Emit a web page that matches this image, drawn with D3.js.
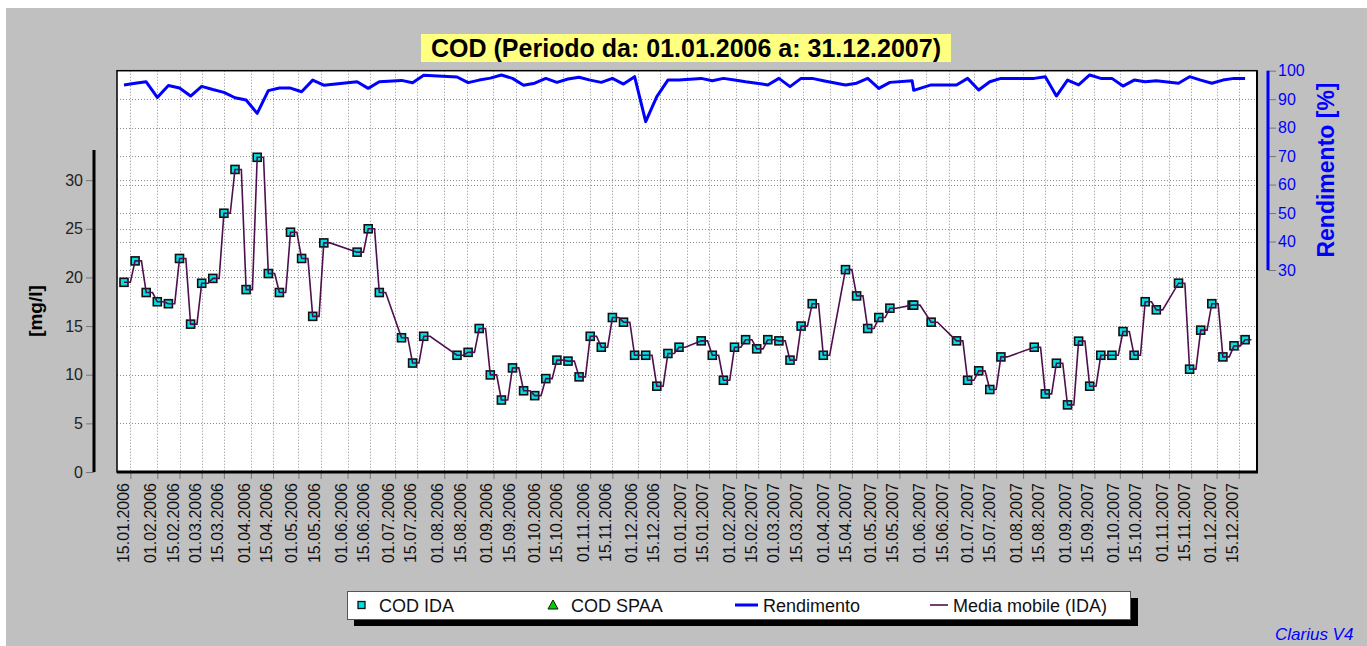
<!DOCTYPE html>
<html>
<head>
<meta charset="utf-8">
<script src="https://cdn.jsdelivr.net/npm/d3@7"></script>
<style>
  body { margin: 0; background: #fff; }
  text { font-family: "Liberation Sans", Arial, sans-serif; }
</style>
</head>
<body>
<svg id="chart" width="1367" height="646"></svg>
<script>
// sample dates (weekly analyses)
const sampleDates = [
  "11.01.2006","18.01.2006","25.01.2006","01.02.2006","08.02.2006","15.02.2006","22.02.2006","01.03.2006",
  "08.03.2006","15.03.2006","22.03.2006","29.03.2006","05.04.2006","12.04.2006","19.04.2006","26.04.2006",
  "03.05.2006","10.05.2006","17.05.2006","07.06.2006","14.06.2006","21.06.2006","05.07.2006","12.07.2006",
  "19.07.2006","09.08.2006","16.08.2006","23.08.2006","30.08.2006","06.09.2006","13.09.2006","20.09.2006",
  "27.09.2006","04.10.2006","11.10.2006","18.10.2006","25.10.2006","01.11.2006","08.11.2006","15.11.2006",
  "22.11.2006","29.11.2006","06.12.2006","13.12.2006","20.12.2006","27.12.2006","10.01.2007","17.01.2007",
  "24.01.2007","31.01.2007","07.02.2007","14.02.2007","21.02.2007","28.02.2007","07.03.2007","14.03.2007",
  "21.03.2007","28.03.2007","11.04.2007","18.04.2007","25.04.2007","02.05.2007","09.05.2007","23.05.2007",
  "24.05.2007","04.06.2007","20.06.2007","27.06.2007","04.07.2007","11.07.2007","18.07.2007","08.08.2007",
  "15.08.2007","22.08.2007","29.08.2007","05.09.2007","12.09.2007","19.09.2007","26.09.2007","03.10.2007",
  "10.10.2007","17.10.2007","24.10.2007","07.11.2007","14.11.2007","21.11.2007","28.11.2007","05.12.2007",
  "12.12.2007","19.12.2007"
];

// COD IDA [mg/l]
const codIda = [
  19.5, 21.7, 18.45, 17.5, 17.3, 21.95, 15.2, 19.4,
  19.9, 26.6, 31.1, 18.75, 32.35, 20.4, 18.45, 24.65,
  21.95, 16.0, 23.55, 22.6, 25.0, 18.45, 13.8, 11.2,
  13.95, 12.0, 12.3, 14.75, 9.98, 7.4, 10.7, 8.35,
  7.85, 9.6, 11.5, 11.4, 9.78, 13.95, 12.83, 15.88,
  15.4, 12.0, 12.0, 8.82, 12.18, 12.83, 13.48, 12.0,
  9.43, 12.83, 13.6, 12.66, 13.6, 13.48, 11.5, 15.0,
  17.3, 12.0, 20.8, 18.1, 14.75, 15.88, 16.84, 17.15,
  17.15, 15.4, 13.48, 9.43, 10.4, 8.48, 11.83, 12.83,
  8.03, 11.18, 6.9, 13.45, 8.82, 12.0, 12.0, 14.44,
  12.0, 17.5, 16.67, 19.41, 10.57, 14.58, 17.3, 11.83,
  12.97, 13.6
];

// Rendimento [%]
const rendimento = [
  95.0, 95.6, 96.1, 90.6, 94.8, 93.9, 91.1, 94.5,
  93.4, 92.4, 90.5, 89.7, 85.0, 93.0, 93.9, 93.9,
  92.6, 96.7, 94.9, 96.1, 93.8, 96.1, 96.6, 95.8,
  98.4, 97.8, 95.8, 96.7, 97.4, 98.5, 97.3, 94.9,
  95.6, 97.3, 95.9, 97.1, 97.7, 96.7, 95.9, 97.3,
  95.3, 97.9, 82.1, 90.9, 96.7, 96.7, 97.3, 96.5,
  97.3, 96.7, 96.1, 95.6, 95.0, 97.3, 94.4, 97.3,
  97.3, 96.5, 95.0, 95.6, 97.3, 93.8, 95.9, 96.5,
  93.1, 95.0, 95.0, 97.3, 93.2, 96.1, 97.3, 97.3,
  97.9, 91.1, 96.7, 95.0, 98.5, 97.3, 97.3, 94.6,
  96.7, 96.1, 96.5, 95.6, 97.9, 96.7, 95.6, 96.7,
  97.3, 97.3
];

const leftTicks = [0, 5, 10, 15, 20, 25, 30];
const rightTicks = [30, 40, 50, 60, 70, 80, 90, 100];
const titleText = "COD (Periodo da: 01.01.2006 a: 31.12.2007)";
const legendItems = ["COD IDA", "COD SPAA", "Rendimento", "Media mobile (IDA)"];
const mediaLagDays = 4;

const parse = d3.timeParse("%d.%m.%Y");
const fmt = d3.timeFormat("%d.%m.%Y");
const dates = sampleDates.map(parse);

const plot = { left: 117, right: 1257, top: 70.7, bottom: 472 };
const svg = d3.select("#chart");

// background panel
svg.append("rect").attr("x", 6).attr("y", 8).attr("width", 1361).attr("height", 638).attr("fill", "#c0c0c0");

const x = d3.scaleTime()
  .domain([new Date(2006, 0, 6, 14), new Date(2007, 11, 26, 12)])
  .range([plot.left, plot.right]);
const yL = d3.scaleLinear().domain([0, 33.1]).range([plot.bottom, 150]);
const yR = d3.scaleLinear().domain([30, 100]).range([270, plot.top]);

// date ticks: 1st and 15th of each month
const tickDates = [];
d3.timeMonth.range(new Date(2006, 0, 1), new Date(2008, 0, 1)).forEach(m => {
  tickDates.push(m, d3.timeDay.offset(m, 14));
});
const labelDates = tickDates.filter(d => d >= new Date(2006, 0, 15) && d <= new Date(2007, 11, 15));

svg.append("rect")
  .attr("x", plot.left).attr("y", plot.top)
  .attr("width", plot.right - plot.left).attr("height", plot.bottom - plot.top)
  .attr("fill", "#fff");

// grid
const grid = svg.append("g").attr("stroke", "#8a8a8a").attr("stroke-dasharray", "1,2").attr("stroke-width", 1);
grid.selectAll(".vg").data(labelDates).enter().append("line")
  .attr("x1", d => Math.round(x(d)) + 0.5).attr("x2", d => Math.round(x(d)) + 0.5)
  .attr("y1", plot.top).attr("y2", plot.bottom);
grid.selectAll(".hl").data(leftTicks.filter(v => v > 0)).enter().append("line")
  .attr("x1", plot.left).attr("x2", plot.right)
  .attr("y1", d => Math.round(yL(d)) + 0.5).attr("y2", d => Math.round(yL(d)) + 0.5);
grid.selectAll(".hr").data(rightTicks.filter(v => v < 100)).enter().append("line")
  .attr("x1", plot.left).attr("x2", plot.right)
  .attr("y1", d => Math.round(yR(d)) + 0.5).attr("y2", d => Math.round(yR(d)) + 0.5);

// plot frame
svg.append("rect")
  .attr("x", plot.left).attr("y", plot.top)
  .attr("width", plot.right - plot.left).attr("height", plot.bottom - plot.top)
  .attr("fill", "none").attr("stroke", "#000").attr("stroke-width", 1.5);
svg.append("line").attr("x1", plot.right).attr("x2", plot.right)
  .attr("y1", plot.top).attr("y2", plot.bottom).attr("stroke", "#000").attr("stroke-width", 2);

// x axis
const xAxis = svg.append("g").attr("transform", `translate(0,${plot.bottom})`);
xAxis.call(d3.axisBottom(x).tickValues(d3.timeDay.every(4).range(x.domain()[0], x.domain()[1])).tickSize(4).tickFormat(""));
xAxis.call(d3.axisBottom(x).tickValues(labelDates).tickSize(7).tickFormat(fmt));
xAxis.selectAll(".domain").remove();
xAxis.selectAll("line").attr("stroke", "#777");
xAxis.selectAll("text")
  .attr("transform", "rotate(-90)")
  .attr("text-anchor", "end")
  .attr("x", -11).attr("y", -1.5).attr("dy", 0)
  .attr("font-size", 16).attr("fill", "#111");
svg.append("line").attr("x1", plot.left).attr("x2", plot.right + 1)
  .attr("y1", plot.bottom).attr("y2", plot.bottom).attr("stroke", "#000").attr("stroke-width", 3);

// left axis
const axL = svg.append("g").attr("transform", "translate(94,0)");
axL.call(d3.axisLeft(yL).tickValues(d3.range(0, 34, 1)).tickSize(4).tickFormat(""));
axL.call(d3.axisLeft(yL).tickValues(leftTicks).tickSize(8).tickPadding(3));
axL.selectAll(".domain").remove();
axL.selectAll("line").attr("stroke", "#777");
axL.selectAll("text").attr("font-size", 16).attr("fill", "#222");
axL.append("line").attr("y1", 150).attr("y2", plot.bottom).attr("stroke", "#000").attr("stroke-width", 3);

// right axis
const axR = svg.append("g").attr("transform", "translate(1268,0)");
axR.call(d3.axisRight(yR).tickValues(d3.range(30, 101, 2)).tickSize(4).tickFormat(""));
axR.call(d3.axisRight(yR).tickValues(rightTicks).tickSize(8).tickPadding(2));
axR.selectAll(".domain").remove();
axR.selectAll("line").attr("stroke", "#777");
axR.selectAll("text").attr("font-size", 16).attr("fill", "#0000ff");
axR.append("line").attr("y1", plot.top).attr("y2", 270).attr("stroke", "#0000ff").attr("stroke-width", 3);

// axis titles
svg.append("text").attr("transform", "translate(42,311) rotate(-90)")
  .attr("text-anchor", "middle").attr("font-size", 19).attr("font-weight", "bold").text("[mg/l]");
svg.append("text").attr("transform", "translate(1334,170) rotate(-90)")
  .attr("text-anchor", "middle").attr("font-size", 23).attr("font-weight", "bold")
  .attr("fill", "#0000ff").text("Rendimento [%]");

// Rendimento line
const rows = dates.map((d, i) => ({ d, cod: codIda[i], ren: rendimento[i] }));
svg.append("path").datum(rows)
  .attr("fill", "none").attr("stroke", "#0000ff").attr("stroke-width", 3).attr("stroke-linejoin", "round")
  .attr("d", d3.line().x(r => x(r.d)).y(r => yR(r.ren)));

// COD IDA markers
svg.selectAll(".mk").data(rows).enter().append("rect")
  .attr("x", r => x(r.d) - 4).attr("y", r => yL(r.cod) - 4)
  .attr("width", 8).attr("height", 8)
  .attr("fill", "#00e0e0").attr("stroke", "#111").attr("stroke-width", 1.6);

// Media mobile (IDA)
const mediaPts = [];
rows.forEach((r, i) => {
  mediaPts.push([r.d, r.cod]);
  let end = d3.timeDay.offset(r.d, mediaLagDays);
  if (i < rows.length - 1 && end > rows[i + 1].d) end = rows[i + 1].d;
  mediaPts.push([end, r.cod]);
});
svg.append("path").datum(mediaPts)
  .attr("fill", "none").attr("stroke", "#4d0f4d").attr("stroke-width", 1.6)
  .attr("d", d3.line().x(p => x(p[0])).y(p => yL(p[1])));

// title
const tg = svg.append("g");
tg.append("rect").attr("x", 421).attr("y", 34).attr("width", 530).attr("height", 28).attr("fill", "#ffff80");
tg.append("text").attr("x", 686).attr("y", 57).attr("text-anchor", "middle")
  .attr("font-size", 25).attr("font-weight", "bold").attr("fill", "#000").text(titleText);

// legend
const lg = svg.append("g");
lg.append("rect").attr("x", 354).attr("y", 598).attr("width", 784).attr("height", 28).attr("fill", "#000");
lg.append("rect").attr("x", 347.5).attr("y", 591.5).attr("width", 783).attr("height", 28)
  .attr("fill", "#fff").attr("stroke", "#555").attr("stroke-width", 1);
const ly = 605;
lg.append("rect").attr("x", 358).attr("y", ly - 3.5).attr("width", 7).attr("height", 7)
  .attr("fill", "#00e0e0").attr("stroke", "#111").attr("stroke-width", 1.3);
lg.append("path").attr("d", `M553,${ly - 5}L558,${ly + 4}L548,${ly + 4}Z`)
  .attr("fill", "#00d000").attr("stroke", "#111").attr("stroke-width", 1);
lg.append("line").attr("x1", 735).attr("x2", 758).attr("y1", ly).attr("y2", ly)
  .attr("stroke", "#0000ff").attr("stroke-width", 3);
lg.append("line").attr("x1", 930).attr("x2", 948).attr("y1", ly).attr("y2", ly)
  .attr("stroke", "#4d0f4d").attr("stroke-width", 1.6);
const lx = [379, 571, 763, 953];
lg.selectAll(".lt").data(legendItems).enter().append("text")
  .attr("x", (d, i) => lx[i]).attr("y", ly + 6.5).attr("font-size", 18).attr("fill", "#111").text(d => d);

svg.append("text").attr("x", 1275).attr("y", 640).attr("font-size", 17)
  .attr("font-style", "italic").attr("fill", "#0000ff").text("Clarius V4");
</script>
</body>
</html>
